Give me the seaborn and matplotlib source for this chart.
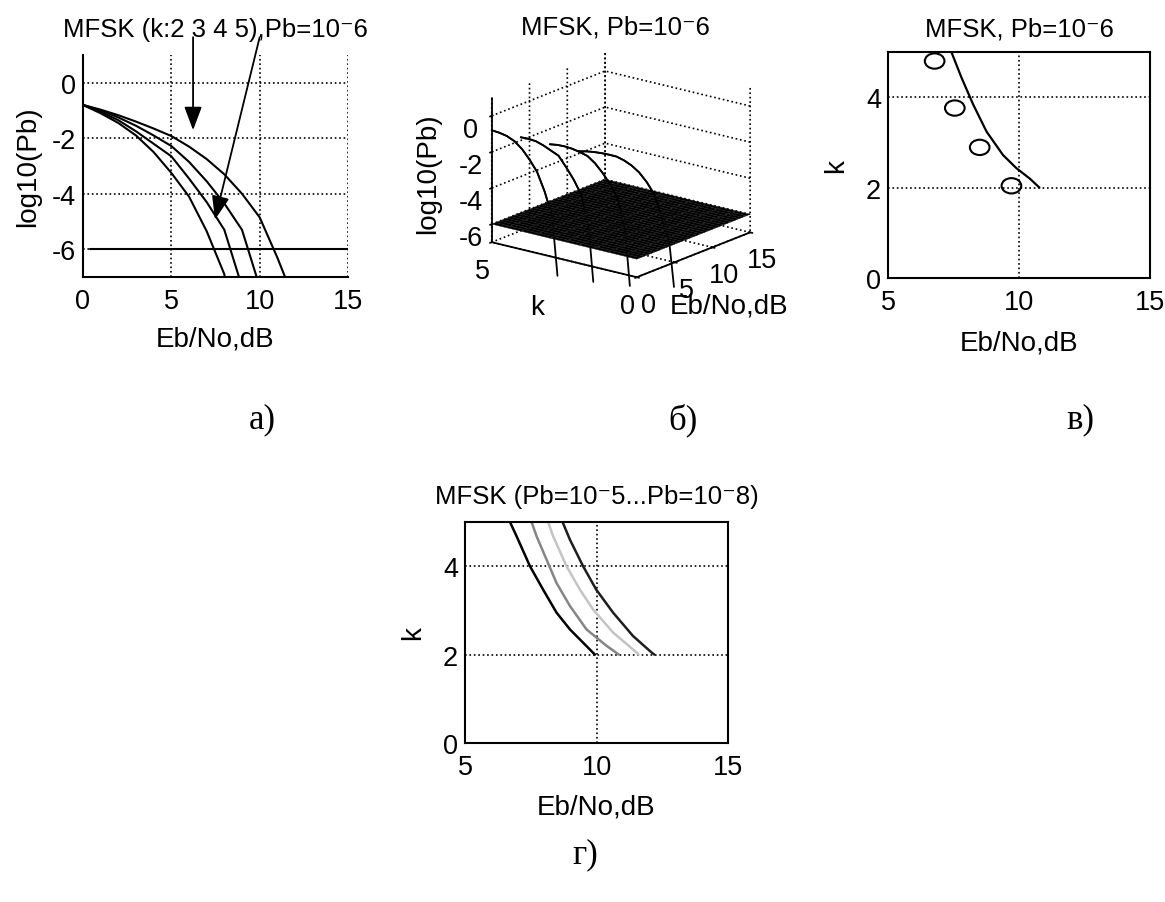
import numpy as np
import pandas as pd
import matplotlib
matplotlib.use('Agg')
import matplotlib.pyplot as plt
import seaborn as sns
from matplotlib.path import Path
from matplotlib.transforms import Affine2D

# log10(Pb) vs Eb/No for MFSK, k = 2..5
ebno_k2 = [0, 1, 2, 3, 4, 5, 6, 7, 8, 9, 10, 11, 12, 12.6]
pb_k2 = [-0.80, -0.97, -1.17, -1.40, -1.65, -1.92, -2.30, -2.75, -3.30, -4.00, -4.85, -6.30, -7.90, -10.4]
ebno_k3 = [0, 1, 2, 3, 4, 5, 6, 7, 8, 9, 10, 10.6]
pb_k3 = [-0.80, -1.00, -1.25, -1.55, -1.90, -2.28, -2.85, -3.55, -4.35, -5.30, -7.35, -10.4]
ebno_k4 = [0, 1, 2, 3, 4, 5, 6, 7, 8, 9, 9.6]
pb_k4 = [-0.80, -1.05, -1.35, -1.75, -2.20, -2.65, -3.45, -4.30, -5.30, -7.35, -10.4]
ebno_k5 = [0, 1, 2, 3, 4, 5, 6, 7, 8, 8.7]
pb_k5 = [-0.80, -1.10, -1.45, -1.90, -2.50, -3.25, -4.10, -5.35, -6.90, -10.3]
k_values = [2, 3, 4, 5]
pb_target = -6
target_line_x = [0.4, 15]

# k vs Eb/No needed for Pb = 1e-6 (panel в)
req_ebno = [7.42, 7.80, 8.25, 8.76, 9.39, 9.90, 10.41, 10.78]
req_k = [5.0, 4.44, 3.84, 3.24, 2.72, 2.43, 2.20, 2.0]
circ_ebno = [6.78, 7.55, 8.50, 9.71]
circ_k = [4.80, 3.76, 2.89, 2.04]

# k vs Eb/No for Pb = 1e-5 ... 1e-8 (panel г)
g_pb_levels = ['1e-5', '1e-6', '1e-7', '1e-8']
g_ebno_1 = [6.71, 6.96, 7.47, 7.97, 8.48, 8.99, 9.49, 9.94]
g_k_1 = [5.0, 4.68, 4.00, 3.47, 2.95, 2.57, 2.27, 2.0]
g_ebno_2 = [7.53, 7.72, 8.10, 8.48, 8.99, 9.62, 10.38, 10.85]
g_k_2 = [5.0, 4.68, 4.15, 3.62, 3.10, 2.57, 2.20, 2.0]
g_ebno_3 = [8.16, 8.35, 8.86, 9.37, 9.87, 10.63, 11.52, 11.6]
g_k_3 = [5.0, 4.68, 4.00, 3.47, 3.02, 2.50, 2.05, 2.0]
g_ebno_4 = [8.71, 8.99, 9.49, 9.99, 10.63, 11.39, 12.09, 12.2]
g_k_4 = [5.0, 4.60, 4.00, 3.47, 2.95, 2.42, 2.05, 2.0]
g_colors = ['#000000', '#858585', '#c4c4c4', '#1e1e1e']

sns.set_theme(style='white')
plt.rcParams['font.family'] = ['Liberation Sans', 'DejaVu Sans']
plt.rcParams['axes.unicode_minus'] = False
plt.rcParams['grid.linestyle'] = ':'
plt.rcParams['grid.color'] = 'black'
plt.rcParams['grid.linewidth'] = 1.2
plt.rcParams['axes.edgecolor'] = 'black'
plt.rcParams['axes.linewidth'] = 1.5
plt.rcParams['xtick.color'] = 'black'
plt.rcParams['ytick.color'] = 'black'
plt.rcParams['text.color'] = 'black'
plt.rcParams['axes.labelcolor'] = 'black'

fs_tick = 19.5
fs_lab = 20
fs_title = 18.5
fig = plt.figure(figsize=(11.65, 9.03), dpi=100)

curves = pd.concat([
    pd.DataFrame({'ebno': e, 'pb': p, 'k': k})
    for e, p, k in zip([ebno_k2, ebno_k3, ebno_k4, ebno_k5],
                       [pb_k2, pb_k3, pb_k4, pb_k5], k_values)
], ignore_index=True)


def style_2d(ax):
    ax.grid(True, linestyle=':', color='black', linewidth=1.2)
    ax.tick_params(direction='in', length=4, width=1, labelsize=fs_tick, pad=5,
                   colors='black')
    ax.tick_params(axis='x', pad=8)
    for s in ax.spines.values():
        s.set_color('black')
        s.set_linewidth(1.5)


# ---- а) ----
ax_a = fig.add_axes([83 / 1165, 1 - 278 / 903, 265 / 1165, 222 / 903])
sns.lineplot(data=curves, x='ebno', y='pb', units='k', estimator=None, sort=False,
             color='black', linewidth=1.5, ax=ax_a)
sns.lineplot(x=target_line_x, y=[pb_target, pb_target], color='black', linewidth=1.5, ax=ax_a)
ax_a.set_xlim(0, 15)
ax_a.set_ylim(-7, 1)
ax_a.set_xticks([0, 5, 10, 15])
ax_a.set_yticks([0, -2, -4, -6])
style_2d(ax_a)
ax_a.spines['top'].set_visible(False)
ax_a.spines['right'].set_visible(False)
ax_a.set_xlabel('Eb/No,dB', fontsize=fs_lab, labelpad=8)
ax_a.set_ylabel('log10(Pb)', fontsize=fs_lab, labelpad=8)
ax_a.set_title('MFSK (k:2 3 4 5),Pb=10⁻6', fontsize=fs_title, pad=14)
arrow = dict(arrowstyle='-|>,head_length=1.2,head_width=0.45', color='black', lw=1.3,
             shrinkA=0, shrinkB=0)
ax_a.annotate('', xy=(6.23, -1.71), xytext=(6.23, 1.64), arrowprops=arrow,
              annotation_clip=False)
ax_a.annotate('', xy=(7.47, -4.93), xytext=(10.0, 1.64), arrowprops=arrow,
              annotation_clip=False)

# ---- б) ----
ax_b = fig.add_axes([0.3946, 0.6497, 0.27, 0.324], projection='3d', proj_type='ortho')
ax_b.set_box_aspect((4, 4, 3.3))
ax_b.view_init(elev=18, azim=-142)
ax_b.computed_zorder = False
gx, gy = np.meshgrid(np.linspace(0, 15, 31), np.linspace(0, 5, 11))
ax_b.plot_surface(gx, gy, np.full_like(gx, pb_target), color='black',
                  edgecolor='#1c1c1c', linewidth=0.3, shade=False, zorder=2)
for k, grp in curves.groupby('k'):
    e = grp['ebno'].to_numpy()
    p = grp['pb'].to_numpy()
    ax_b.plot(e, np.full_like(e, k, dtype=float), p, color='black', lw=1.3, zorder=1)
    cross = np.interp(-pb_target, -p, e)
    top = p >= pb_target
    et = np.append(e[top], cross)
    pt = np.append(p[top], pb_target)
    ax_b.plot(et, np.full_like(et, k, dtype=float), pt, color='black', lw=1.3, zorder=3)
ax_b.set_xlim(0, 15)
ax_b.set_ylim(0, 5)
ax_b.set_zlim(-7, 1)
ax_b.set_xticks([0, 5, 10, 15])
ax_b.set_yticks([0, 5])
ax_b.set_zticks([-6, -4, -2, 0])
for axis in (ax_b.xaxis, ax_b.yaxis, ax_b.zaxis):
    axis.set_pane_color((1, 1, 1, 0))
    axis.pane.set_edgecolor('none')
    axis.line.set_color('black')
    axis.line.set_linewidth(1.3)
ax_b.tick_params(labelsize=fs_tick, pad=1)
ax_b.set_zlabel('log10(Pb)', fontsize=fs_lab, labelpad=6)
fig.text(537 / 1165, 1 - 308 / 903, 'k', fontsize=fs_lab, ha='center', va='center')
fig.text(729 / 1165, 1 - 307 / 903, 'Eb/No,dB', fontsize=fs_lab, ha='center', va='center')
fig.text(615 / 1165, 1 - 27 / 903, 'MFSK, Pb=10⁻6', fontsize=fs_title,
         ha='center', va='center')

# ---- в) ----
ax_v = fig.add_axes([888 / 1165, 1 - 279 / 903, 262 / 1165, 226 / 903])
ellipse = Path.unit_circle().transformed(Affine2D().scale(1.0, 0.78))
sns.lineplot(x=req_ebno, y=req_k, sort=False, color='black', linewidth=1.6, ax=ax_v)
sns.scatterplot(x=circ_ebno, y=circ_k, marker=ellipse, s=200, facecolors='none',
                edgecolor='black', linewidth=1.5, ax=ax_v)
ax_v.set_xlim(5, 15)
ax_v.set_ylim(0, 5)
ax_v.set_xticks([5, 10, 15])
ax_v.set_yticks([0, 2, 4])
style_2d(ax_v)
ax_v.set_xlabel('Eb/No,dB', fontsize=fs_lab, labelpad=10)
ax_v.set_ylabel('k', fontsize=fs_lab, labelpad=12)
ax_v.set_title('MFSK, Pb=10⁻6', fontsize=fs_title, pad=12)

# ---- г) ----
ax_g = fig.add_axes([465 / 1165, 1 - 744 / 903, 263 / 1165, 221 / 903])
for xs, ys, c in zip([g_ebno_1, g_ebno_2, g_ebno_3, g_ebno_4],
                     [g_k_1, g_k_2, g_k_3, g_k_4], g_colors):
    sns.lineplot(x=xs, y=ys, sort=False, color=c, linewidth=1.8, ax=ax_g)
ax_g.set_xlim(5, 15)
ax_g.set_ylim(0, 5)
ax_g.set_xticks([5, 10, 15])
ax_g.set_yticks([0, 2, 4])
style_2d(ax_g)
ax_g.set_xlabel('Eb/No,dB', fontsize=fs_lab, labelpad=10)
ax_g.set_ylabel('k', fontsize=fs_lab, labelpad=12)
ax_g.set_title('MFSK (Pb=10⁻5...Pb=10⁻8)', fontsize=fs_title, pad=14)

# panel captions
cap = dict(fontsize=25, family=['Liberation Serif', 'DejaVu Serif'], ha='center', va='center')
fig.text(262 / 1165, 1 - 420 / 903, 'а)', **cap)
fig.text(683 / 1165, 1 - 420 / 903, 'б)', **cap)
fig.text(1080 / 1165, 1 - 420 / 903, 'в)', **cap)
fig.text(585 / 1165, 1 - 855 / 903, 'г)', **cap)

fig.savefig('out.png', dpi=100)
